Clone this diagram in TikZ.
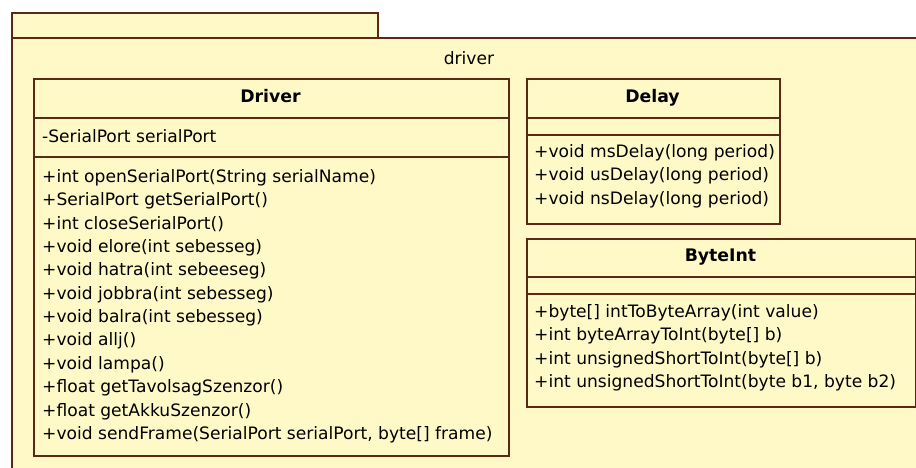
\documentclass[tikz,border=0pt]{standalone}
\usepackage{fontspec}
\setmainfont{DejaVu Sans}
\definecolor{umlfill}{RGB}{255,249,200}
\definecolor{umlline}{RGB}{92,40,22}
\begin{document}
\begin{tikzpicture}[x=1pt,y=-1pt,
  pkgshape/.style={draw=umlline,fill=umlfill,line width=1.8pt},
  classbox/.style={draw=umlline,fill=umlfill,line width=1.8pt,anchor=north west,inner sep=0pt},
  sepline/.style={draw=umlline,line width=1.8pt},
  member/.style={anchor=west,inner sep=0pt,text height=12.5pt,text depth=3.5pt,font=\fontsize{17.1}{20}\selectfont},
  ctitle/.style={inner sep=0pt,text height=12.5pt,text depth=3.5pt,font=\fontsize{17.3}{20}\selectfont\bfseries},
  plabel/.style={inner sep=0pt,text height=12.5pt,text depth=3.5pt,font=\fontsize{17.1}{20}\selectfont}]
\useasboundingbox (0,0) rectangle (916,468);
\clip (0,0) rectangle (916,468);
\fill[white] (0,0) rectangle (916,468);
% package
\path[pkgshape] (12,13) rectangle (378,38);
\path[pkgshape] (12,38) rectangle (940,490);
\node[plabel] (pkglabel) at (469,60) {driver};
% Driver class
\node[classbox,minimum width=475pt,minimum height=377pt] (driverbox) at (33,78) {};
\draw[sepline] (33,118) -- (508,118);
\draw[sepline] (33,157) -- (508,157);
\node[ctitle] (drivertitle) at (270.5,98) {Driver};
\node[member] (dattr) at (42,138) {-SerialPort serialPort};
\foreach [count=\i] \t in {
  {+int openSerialPort(String serialName)},
  {+SerialPort getSerialPort()},
  {+int closeSerialPort()},
  {+void elore(int sebesseg)},
  {+void hatra(int sebeeseg)},
  {+void jobbra(int sebesseg)},
  {+void balra(int sebesseg)},
  {+void allj()},
  {+void lampa()},
  {+float getTavolsagSzenzor()},
  {+float getAkkuSzenzor()},
  {+void sendFrame(SerialPort serialPort, byte[] frame)}}
  \node[member] (dm\i) at (42,{178+23.35*(\i-1)}) {\t};
% Delay class
\node[classbox,minimum width=253pt,minimum height=145pt] (delaybox) at (526,78) {};
\draw[sepline] (526,118) -- (779,118);
\draw[sepline] (526,135) -- (779,135);
\node[ctitle] (delaytitle) at (652.5,98) {Delay};
\foreach [count=\i] \t in {
  {+void msDelay(long period)},
  {+void usDelay(long period)},
  {+void nsDelay(long period)}}
  \node[member] (ym\i) at (534,{153+23.5*(\i-1)}) {\t};
% ByteInt class
\node[classbox,minimum width=389pt,minimum height=168pt] (byteintbox) at (526,238) {};
\draw[sepline] (526,277) -- (915,277);
\draw[sepline] (526,294) -- (915,294);
\node[ctitle] (byteinttitle) at (720.5,257) {ByteInt};
\foreach [count=\i] \t in {
  {+byte[] intToByteArray(int value)},
  {+int byteArrayToInt(byte[] b)},
  {+int unsignedShortToInt(byte[] b)},
  {+int unsignedShortToInt(byte b1, byte b2)}}
  \node[member] (bm\i) at (534,{313+23.4*(\i-1)}) {\t};
\end{tikzpicture}
\end{document}
